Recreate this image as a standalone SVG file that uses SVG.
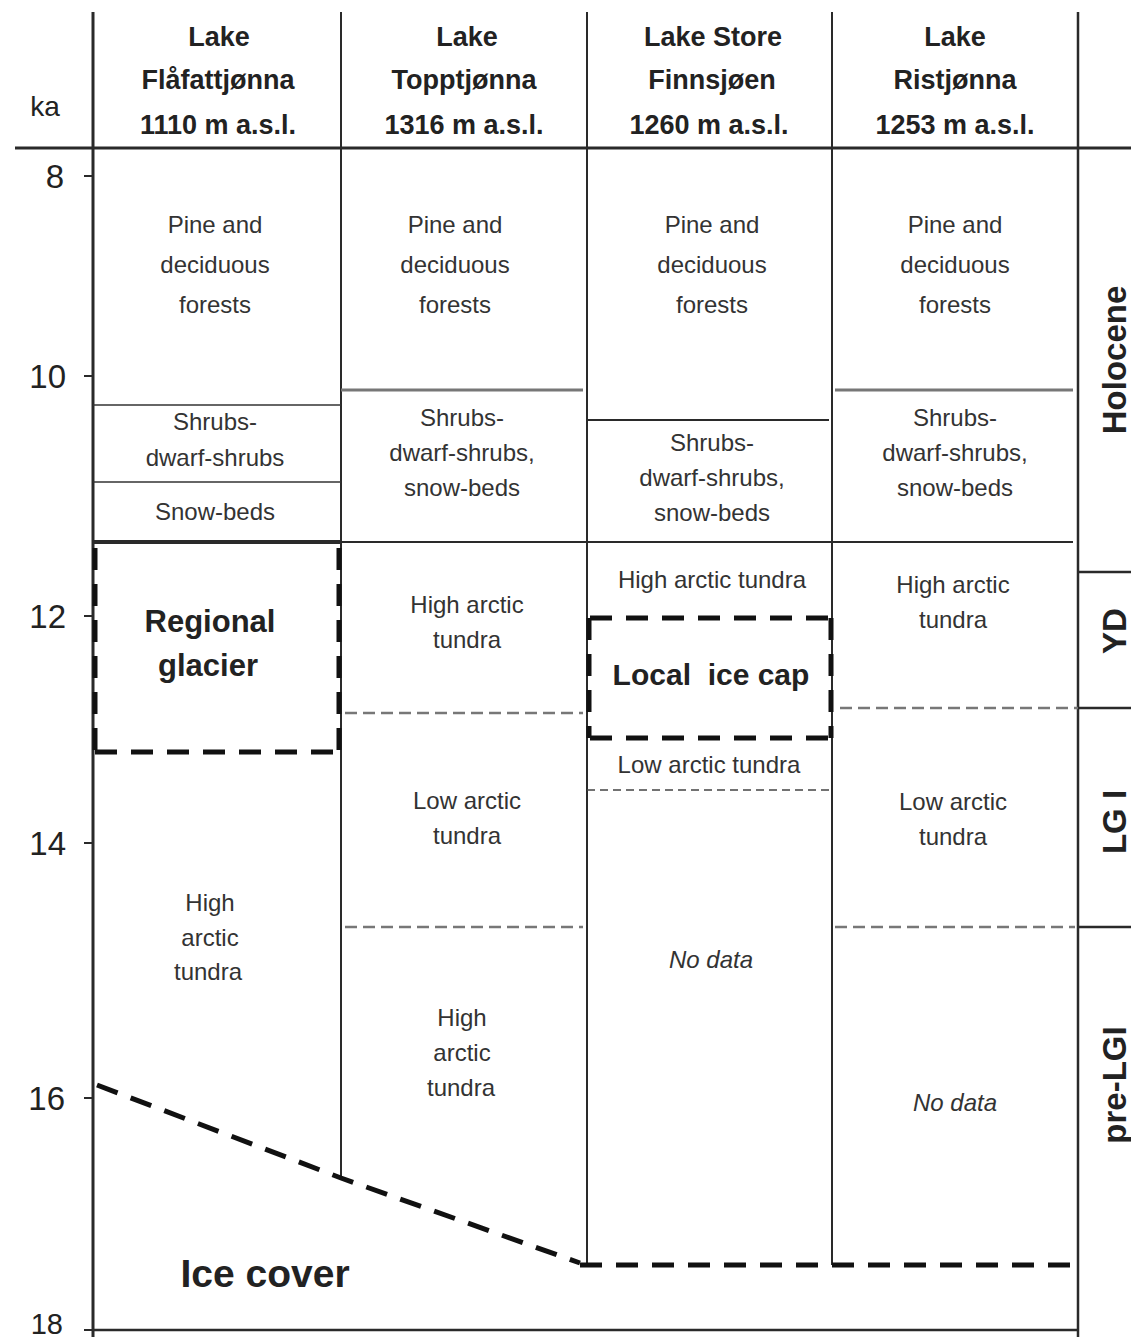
<svg xmlns="http://www.w3.org/2000/svg" width="1131" height="1342" viewBox="0 0 1131 1342">
<style>
.t{font-family:"Liberation Sans",Arial,sans-serif;font-size:24px;fill:#333;text-anchor:middle}
.h{font-family:"Liberation Sans",Arial,sans-serif;font-size:27px;font-weight:bold;fill:#222;text-anchor:middle}
.b{font-family:"Liberation Sans",Arial,sans-serif;font-weight:bold;fill:#222;text-anchor:middle}
.ax{font-family:"Liberation Sans",Arial,sans-serif;font-size:33px;fill:#222;text-anchor:end}
.it{font-style:italic}
.per{font-family:"Liberation Sans",Arial,sans-serif;font-size:33px;font-weight:bold;fill:#222;text-anchor:middle}
.main{stroke:#2a2a2a;fill:none}
.thin{stroke:#333;stroke-width:1.6;fill:none}
.gray{stroke:#777;stroke-width:3;fill:none}
.gdash{stroke:#777;stroke-width:2.5;stroke-dasharray:12 6;fill:none}
.tdash{stroke:#444;stroke-width:1.6;stroke-dasharray:8 5;fill:none}
.bdash{stroke:#111;stroke-width:5;stroke-dasharray:22 14;fill:none}
</style>
<rect width="1131" height="1342" fill="#fff"/>
<g id="frame">
<line class="main" stroke-width="3" x1="93" y1="12" x2="93" y2="1337"/>
<line class="main" stroke-width="2" x1="341" y1="12" x2="341" y2="1178"/>
<line class="main" stroke-width="2" x1="587" y1="12" x2="587" y2="1265"/>
<line class="main" stroke-width="2" x1="832" y1="12" x2="832" y2="1265"/>
<line class="main" stroke-width="2.5" x1="1078" y1="12" x2="1078" y2="1337"/>
<line class="main" stroke-width="3" x1="15" y1="148" x2="1131" y2="148"/>
<line class="main" stroke-width="2.5" x1="93" y1="1330" x2="1078" y2="1330"/>
</g>
<g id="axis">
<g class="main" stroke-width="2">
<line x1="84" y1="176" x2="93" y2="176"/>
<line x1="84" y1="376" x2="93" y2="376"/>
<line x1="84" y1="616" x2="93" y2="616"/>
<line x1="84" y1="843" x2="93" y2="843"/>
<line x1="84" y1="1098" x2="93" y2="1098"/>
<line x1="84" y1="1330" x2="93" y2="1330"/>
</g>
<text class="ax" x="64" y="188">8</text>
<text class="ax" x="66" y="388">10</text>
<text class="ax" x="66" y="628">12</text>
<text class="ax" x="66" y="855">14</text>
<text class="ax" x="65" y="1110">16</text>
<text class="ax" x="63" y="1334" style="font-size:29px">18</text>
<text class="t" x="45" y="116" style="font-size:28px;fill:#222">ka</text>
</g>
<g id="headers">
<text class="h" x="219" y="46">Lake</text>
<text class="h" x="218" y="89">Flåfattjønna</text>
<text class="h" x="218" y="134">1110 m a.s.l.</text>
<text class="h" x="467" y="46">Lake</text>
<text class="h" x="464" y="89">Topptjønna</text>
<text class="h" x="464" y="134">1316 m a.s.l.</text>
<text class="h" x="713" y="46">Lake Store</text>
<text class="h" x="712" y="89">Finnsjøen</text>
<text class="h" x="709" y="134">1260 m a.s.l.</text>
<text class="h" x="955" y="46">Lake</text>
<text class="h" x="955" y="89">Ristjønna</text>
<text class="h" x="955" y="134">1253 m a.s.l.</text>
</g>
<g id="zone-lines">
<line class="thin" x1="93" y1="405" x2="341" y2="405"/>
<line class="thin" x1="93" y1="482" x2="341" y2="482"/>
<line class="main" stroke-width="4" x1="93" y1="542" x2="341" y2="542"/>
<line class="gray" x1="341" y1="390" x2="583" y2="390"/>
<line class="main" stroke-width="2" x1="587" y1="420" x2="829" y2="420"/>
<line class="gray" x1="835" y1="390" x2="1073" y2="390"/>
<line class="main" stroke-width="2" x1="341" y1="542" x2="1073" y2="542"/>
<line class="main" stroke-width="2.5" x1="1078" y1="572" x2="1131" y2="572"/>
<line class="main" stroke-width="2.5" x1="1078" y1="708" x2="1131" y2="708"/>
<line class="main" stroke-width="2.5" x1="1078" y1="927" x2="1131" y2="927"/>
<line class="gdash" x1="345" y1="713" x2="583" y2="713"/>
<line class="gdash" x1="345" y1="927" x2="583" y2="927"/>
<line class="gdash" x1="840" y1="708" x2="1078" y2="708"/>
<line class="gdash" x1="835" y1="927" x2="1075" y2="927"/>
<line class="tdash" x1="587" y1="790" x2="830" y2="790"/>
</g>
<g id="ice-limits">
<path class="bdash" d="M95 548 V752"/>
<path class="bdash" d="M339 548 V752"/>
<path class="bdash" d="M95 752 H339"/>
<path class="bdash" d="M590 618 H830"/>
<path class="bdash" d="M590 738 H830"/>
<path class="bdash" d="M589 618 V738"/>
<path class="bdash" d="M831 618 V738"/>
<path class="bdash" d="M97 1085 L341 1178 L580 1263"/>
<path class="bdash" d="M580 1265 H1075"/>
</g>
<g id="col1">
<text class="t" x="215" y="233">Pine and</text>
<text class="t" x="215" y="273">deciduous</text>
<text class="t" x="215" y="313">forests</text>
<text class="t" x="215" y="430">Shrubs-</text>
<text class="t" x="215" y="466">dwarf-shrubs</text>
<text class="t" x="215" y="520">Snow-beds</text>
<text class="b" x="210" y="632" style="font-size:31px">Regional</text>
<text class="b" x="208" y="676" style="font-size:31px">glacier</text>
<text class="t" x="210" y="911">High</text>
<text class="t" x="210" y="946">arctic</text>
<text class="t" x="208" y="980">tundra</text>
<text class="b" x="265" y="1287" style="font-size:39px">Ice cover</text>
</g>
<g id="col2">
<text class="t" x="455" y="233">Pine and</text>
<text class="t" x="455" y="273">deciduous</text>
<text class="t" x="455" y="313">forests</text>
<text class="t" x="462" y="426">Shrubs-</text>
<text class="t" x="462" y="461">dwarf-shrubs,</text>
<text class="t" x="462" y="496">snow-beds</text>
<text class="t" x="467" y="613">High arctic</text>
<text class="t" x="467" y="648">tundra</text>
<text class="t" x="467" y="809">Low arctic</text>
<text class="t" x="467" y="844">tundra</text>
<text class="t" x="462" y="1026">High</text>
<text class="t" x="462" y="1061">arctic</text>
<text class="t" x="461" y="1096">tundra</text>
</g>
<g id="col3">
<text class="t" x="712" y="233">Pine and</text>
<text class="t" x="712" y="273">deciduous</text>
<text class="t" x="712" y="313">forests</text>
<text class="t" x="712" y="451">Shrubs-</text>
<text class="t" x="712" y="486">dwarf-shrubs,</text>
<text class="t" x="712" y="521">snow-beds</text>
<text class="t" x="712" y="588">High arctic tundra</text>
<text class="b" x="711" y="685" style="font-size:30px" xml:space="preserve">Local  ice cap</text>
<text class="t" x="709" y="773">Low arctic tundra</text>
<text class="t it" x="711" y="968">No data</text>
</g>
<g id="col4">
<text class="t" x="955" y="233">Pine and</text>
<text class="t" x="955" y="273">deciduous</text>
<text class="t" x="955" y="313">forests</text>
<text class="t" x="955" y="426">Shrubs-</text>
<text class="t" x="955" y="461">dwarf-shrubs,</text>
<text class="t" x="955" y="496">snow-beds</text>
<text class="t" x="953" y="593">High arctic</text>
<text class="t" x="953" y="628">tundra</text>
<text class="t" x="953" y="810">Low arctic</text>
<text class="t" x="953" y="845">tundra</text>
<text class="t it" x="955" y="1111">No data</text>
</g>
<g id="periods">
<text class="per" transform="translate(1126,360) rotate(-90)">Holocene</text>
<text class="per" transform="translate(1126,631) rotate(-90)">YD</text>
<text class="per" transform="translate(1126,822) rotate(-90)">LG I</text>
<text class="per" transform="translate(1126,1085) rotate(-90)">pre-LGI</text>
</g>
</svg>
